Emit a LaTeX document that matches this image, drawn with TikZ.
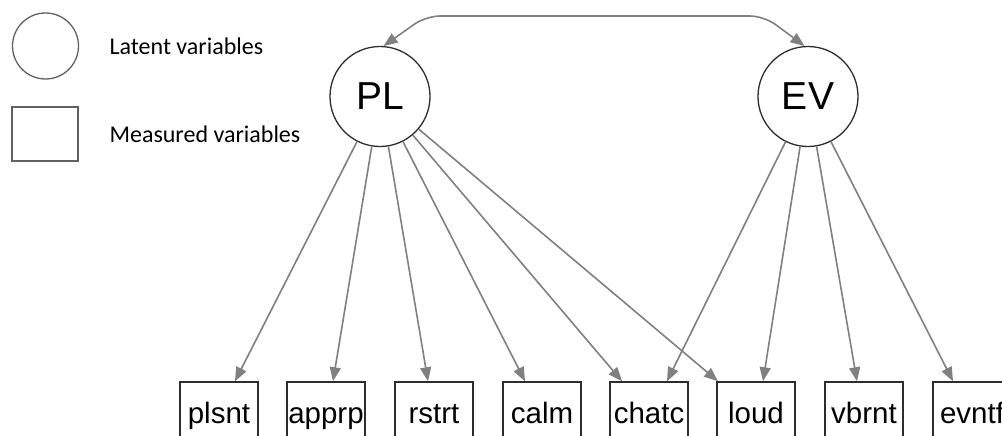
\documentclass[tikz,border=0pt]{standalone}
\usepackage{fontspec}
\setmainfont{Liberation Sans}
\newfontfamily\legendfont{Carlito}
\usetikzlibrary{arrows.meta, calc}
\definecolor{sem-grey}{RGB}{128,128,128}
\definecolor{sem-dark}{RGB}{45,45,45}
\tikzset{semtip/.tip={Triangle[length=14pt,width=11pt]}}

\begin{document}
\begin{tikzpicture}[
  x=1pt, y=-1pt,
  latent/.style={circle,draw=sem-dark,line width=1.3pt,minimum size=100pt,inner sep=0pt,
                 font=\fontsize{39}{40}\selectfont},
  measured/.style={rectangle,draw=sem-dark,line width=1.5pt,minimum width=78pt,minimum height=68pt,
                   inner sep=0pt,text height=21pt,text depth=6pt,font=\fontsize{29.5}{30}\selectfont},
  legend/.style={draw=sem-dark!75,line width=1.3pt,inner sep=0pt},
  legtext/.style={anchor=west,font=\legendfont\fontsize{24}{26}\selectfont},
  arrow/.style={-semtip,draw=sem-grey,line width=1.6pt}
]
  \useasboundingbox (0,0) rectangle (1002,436);

  % legend
  \node[legend, circle, minimum size=66pt]                   (legcirc) at (45.5,46) {};
  \node[legend, rectangle, minimum width=66pt, minimum height=54pt] (legbox)  at (45,134) {};
  \node[legtext] (leglat) at (106,46)  {Latent variables};
  \node[legtext] (legmea) at (106,134) {Measured variables};

  % latent variables
  \node[latent] (PL) at (380,96.5) {PL};
  \node[latent] (EV) at (808,96.5) {EV};

  % measured variables
  \node[measured] (plsnt) at (219,416) {plsnt};
  \node[measured] (apprp) at (326,416) {apprp};
  \node[measured] (rstrt) at (434,416) {rstrt};
  \node[measured] (calm)  at (542,416) {calm};
  \node[measured] (chatc) at (649,416) {chatc};
  \node[measured] (loud)  at (756,416) {loud};
  \node[measured] (vbrnt) at (864,416) {vbrnt};
  \node[measured] (evntf) at (972,416) {evntf};

  % covariance
  \coordinate (topL) at (426,16);
  \coordinate (topR) at (764,16);
  \draw[arrow, semtip-semtip, rounded corners=14pt] (PL.86) -- (topL) -- (topR) -- (EV.94);

  % loadings
  \draw[arrow] (PL) -- ([xshift=16pt]plsnt.north);
  \draw[arrow] (PL) -- ([xshift=7pt]apprp.north);
  \draw[arrow] (PL) -- ([xshift=-6pt]rstrt.north);
  \draw[arrow] (PL) -- ([xshift=-17pt]calm.north);
  \draw[arrow] (PL) -- ([xshift=-27pt]chatc.north);
  \draw[arrow] (PL) -- ([xshift=-38pt]loud.north);
  \draw[arrow] (EV) -- ([xshift=18pt]chatc.north);
  \draw[arrow] (EV) -- ([xshift=7pt]loud.north);
  \draw[arrow] (EV) -- ([xshift=-7pt]vbrnt.north);
  \draw[arrow] (EV) -- ([xshift=-19pt]evntf.north);
\end{tikzpicture}
\end{document}
